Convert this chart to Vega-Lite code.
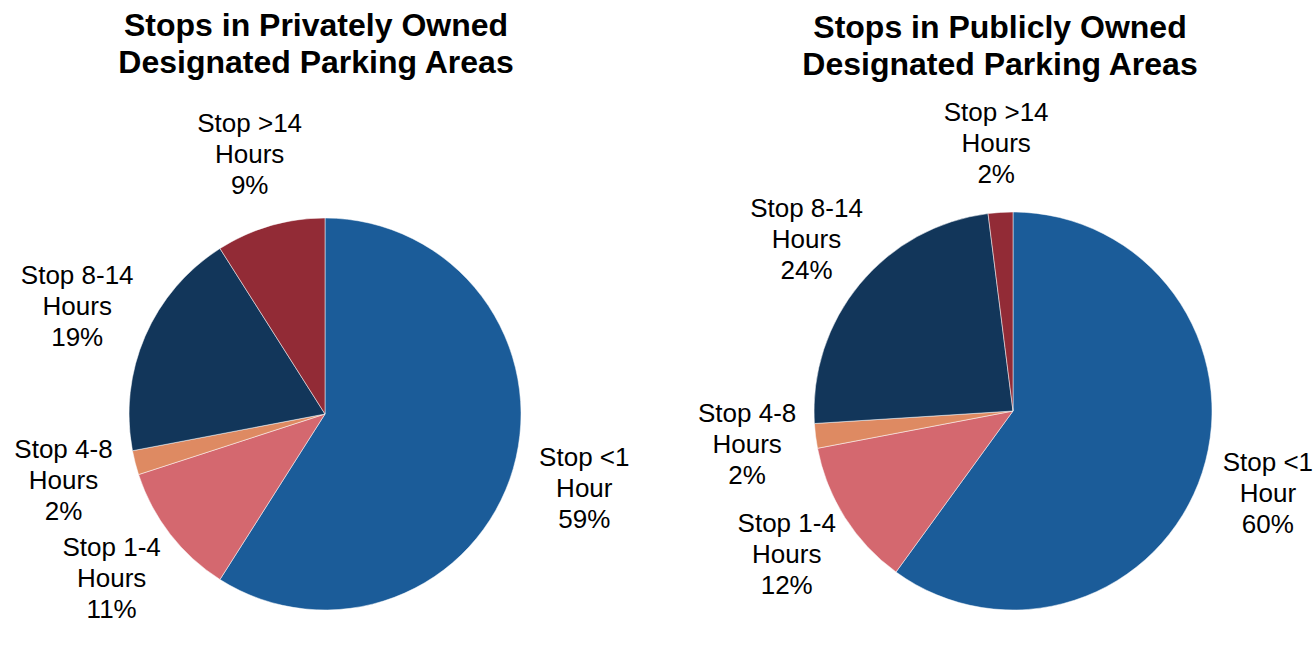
{
  "$schema": "https://vega.github.io/schema/vega-lite/v6.json",
  "padding": {"left": 0, "right": 0, "top": 9, "bottom": 0},
  "background": "white",
  "spacing": 63,
  "bounds": "flush",
  "config": {
    "view": {"stroke": null},
    "title": {"font": "Liberation Sans", "fontSize": 32, "fontWeight": "bold", "color": "black", "lineHeight": 37, "anchor": "middle", "frame": "group"}
  },
  "datasets": {
    "private": [
      {"idx": 1, "category": "Stop <1 Hour", "share": 59, "label": "Stop <1\nHour\n59%"},
      {"idx": 2, "category": "Stop 1-4 Hours", "share": 11, "label": "Stop 1-4\nHours\n11%"},
      {"idx": 3, "category": "Stop 4-8 Hours", "share": 2, "label": "Stop 4-8\nHours\n2%"},
      {"idx": 4, "category": "Stop 8-14 Hours", "share": 19, "label": "Stop 8-14\nHours\n19%"},
      {"idx": 5, "category": "Stop >14 Hours", "share": 9, "label": "Stop >14\nHours\n9%"}
    ],
    "public": [
      {"idx": 1, "category": "Stop <1 Hour", "share": 60, "label": "Stop <1\nHour\n60%"},
      {"idx": 2, "category": "Stop 1-4 Hours", "share": 12, "label": "Stop 1-4\nHours\n12%"},
      {"idx": 3, "category": "Stop 4-8 Hours", "share": 2, "label": "Stop 4-8\nHours\n2%"},
      {"idx": 4, "category": "Stop 8-14 Hours", "share": 24, "label": "Stop 8-14\nHours\n24%"},
      {"idx": 5, "category": "Stop >14 Hours", "share": 2, "label": "Stop >14\nHours\n2%"}
    ]
  },
  "hconcat": [
    {
      "width": 650,
      "height": 462,
      "title": {"text": ["Stops in Privately Owned", "Designated Parking Areas"], "offset": 31, "dx": -9},
      "data": {"name": "private"},
      "encoding": {
        "theta": {"field": "share", "type": "quantitative", "stack": true},
        "order": {"field": "idx", "type": "quantitative"}
      },
      "layer": [
        {
          "mark": {"type": "arc", "outerRadius": 196, "stroke": "white", "strokeWidth": 0.5},
          "encoding": {
            "color": {
              "field": "category", "type": "nominal", "legend": null,
              "scale": {
                "domain": ["Stop <1 Hour", "Stop 1-4 Hours", "Stop 4-8 Hours", "Stop 8-14 Hours", "Stop >14 Hours"],
                "range": ["#1B5C99", "#D4686F", "#DE8A62", "#12365A", "#922B36"]
              }
            }
          }
        },
        {
          "mark": {"type": "text", "radius": 270, "dy": -31, "fontSize": 26, "font": "Liberation Sans", "lineBreak": "\n", "lineHeight": 31, "baseline": "middle", "align": "center", "color": "black"},
          "encoding": {"text": {"field": "label", "type": "nominal"}}
        }
      ]
    },
    {
      "width": 600,
      "height": 456,
      "title": {"text": ["Stops in Publicly Owned", "Designated Parking Areas"], "offset": 18, "dx": -13},
      "data": {"name": "public"},
      "encoding": {
        "theta": {"field": "share", "type": "quantitative", "stack": true},
        "order": {"field": "idx", "type": "quantitative"}
      },
      "layer": [
        {
          "mark": {"type": "arc", "outerRadius": 199, "stroke": "white", "strokeWidth": 0.5},
          "encoding": {
            "color": {
              "field": "category", "type": "nominal", "legend": null,
              "scale": {
                "domain": ["Stop <1 Hour", "Stop 1-4 Hours", "Stop 4-8 Hours", "Stop 8-14 Hours", "Stop >14 Hours"],
                "range": ["#1B5C99", "#D4686F", "#DE8A62", "#12365A", "#922B36"]
              }
            }
          }
        },
        {
          "mark": {"type": "text", "radius": 268, "dy": -31, "fontSize": 26, "font": "Liberation Sans", "lineBreak": "\n", "lineHeight": 31, "baseline": "middle", "align": "center", "color": "black"},
          "encoding": {"text": {"field": "label", "type": "nominal"}}
        }
      ]
    }
  ]
}
